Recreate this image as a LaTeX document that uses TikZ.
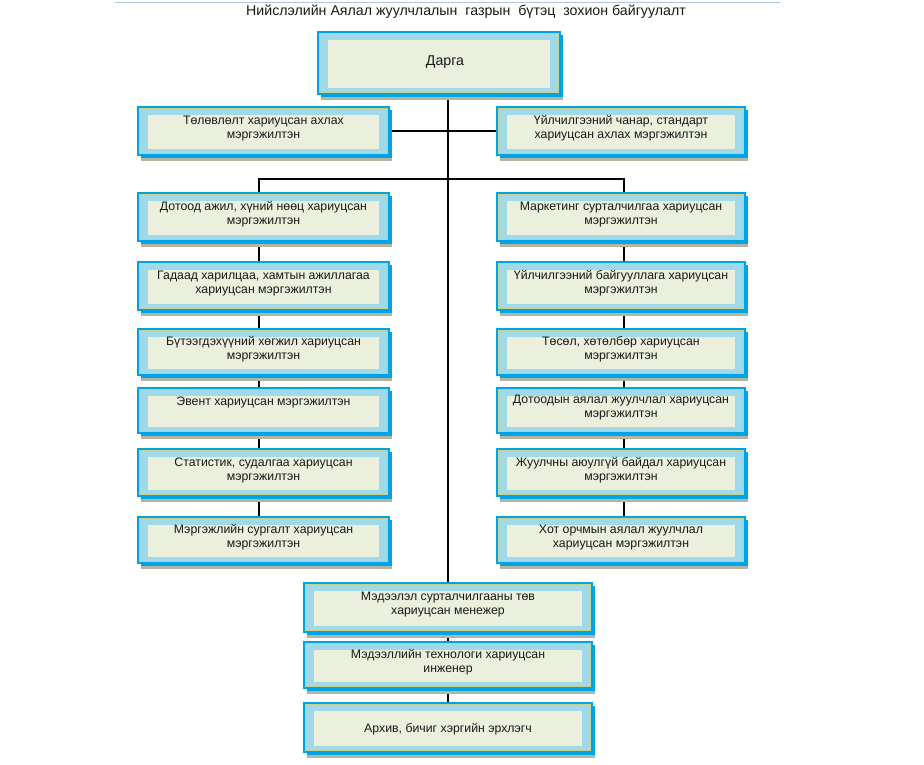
\documentclass[tikz,border=0pt]{standalone}
\usepackage{fontspec}
\setmainfont{Liberation Sans}
\usetikzlibrary{fit,shadows,backgrounds}
\definecolor{bblue}{RGB}{0,163,228}
\definecolor{lblue}{RGB}{160,218,234}
\definecolor{beige}{RGB}{234,240,220}
\definecolor{oline}{RGB}{200,208,140}
\definecolor{sgray}{RGB}{180,180,165}
\definecolor{tline}{RGB}{168,200,232}
\newcommand{\innerdeco}{%
  \fill[beige] ([xshift=10pt,yshift=-8pt]path picture bounding box.north west) rectangle ([xshift=-10pt,yshift=6pt]path picture bounding box.south east);
  \draw[oline, line width=0.7pt] ([xshift=1.6pt,yshift=-1.6pt]path picture bounding box.north west) rectangle ([xshift=-1.6pt,yshift=1.6pt]path picture bounding box.south east);}
\tikzset{
  orgbox/.style={inner sep=0pt, draw=bblue, line width=2pt, fill=lblue,
    preaction={fill=sgray, transform canvas={shift={(3pt,-6pt)}}},
    preaction={fill=bblue, transform canvas={shift={(3pt,-3pt)}}},
    path picture={\innerdeco}},
  orgtext/.style={font=\fontsize{12.3}{14}\selectfont, align=center, inner sep=0pt, text=black!90},
  conn/.style={draw=black, line width=1.1pt}
}
\newcommand{\orgunit}[4]{%
  \node[orgbox, fit={(#2) (#3)}] (#1) {};
  \node[orgtext] (#1-t) at ([yshift=2.5pt]#1.center) {#4};}
\begin{document}
\begin{tikzpicture}[x=1pt,y=-1pt]
\useasboundingbox (0,0) rectangle (924,764);
% title
\coordinate (tl1) at (115,2);
\coordinate (tl2) at (780,2);
\draw[tline, line width=1pt] (tl1) -- (tl2);
\node[font=\fontsize{14.2}{16}\selectfont, inner sep=0pt, text=black!90] (title) at (466,12) {Нийслэлийн Аялал жуулчлалын\ \ газрын\ \ бүтэц\ \ зохион байгуулалт};
% top
\node[orgbox, fit={(318,32) (560,94)}] (darga) {};
\node[font=\fontsize{14.2}{16}\selectfont, inner sep=0pt, text=black!90] (darga-t) at ([xshift=6pt,yshift=1pt]darga.center) {Дарга};
\orgunit{t1}{138,107}{389,155}{Төлөвлөлт хариуцсан ахлах\\мэргэжилтэн}
\orgunit{t2}{497,107}{745,155}{Үйлчилгээний чанар, стандарт\\хариуцсан ахлах мэргэжилтэн}
% left column
\orgunit{l1}{138,193}{389,241}{Дотоод ажил, хүний нөөц хариуцсан\\мэргэжилтэн}
\orgunit{l2}{138,262}{389,310}{Гадаад харилцаа, хамтын ажиллагаа\\хариуцсан мэргэжилтэн}
\orgunit{l3}{138,329}{389,375}{Бүтээгдэхүүний хөгжил хариуцсан\\мэргэжилтэн}
\orgunit{l4}{138,388}{389,433}{Эвент хариуцсан мэргэжилтэн\\\mbox{}}
\orgunit{l5}{138,449}{389,496}{Статистик, судалгаа хариуцсан\\мэргэжилтэн}
\orgunit{l6}{138,517}{389,563}{Мэргэжлийн сургалт хариуцсан\\мэргэжилтэн}
% right column
\orgunit{r1}{497,193}{745,241}{Маркетинг сурталчилгаа хариуцсан\\мэргэжилтэн}
\orgunit{r2}{497,262}{745,310}{Үйлчилгээний байгууллага хариуцсан\\мэргэжилтэн}
\orgunit{r3}{497,329}{745,375}{Төсөл, хөтөлбөр хариуцсан\\мэргэжилтэн}
\orgunit{r4}{497,388}{745,433}{Дотоодын аялал жуулчлал хариуцсан\\мэргэжилтэн}
\orgunit{r5}{497,449}{745,496}{Жуулчны аюулгүй байдал хариуцсан\\мэргэжилтэн}
\orgunit{r6}{497,517}{745,563}{Хот орчмын аялал жуулчлал\\хариуцсан мэргэжилтэн}
% bottom
\orgunit{m1}{304,583}{592,632}{Мэдээлэл сурталчилгааны төв\\хариуцсан менежер}
\orgunit{m2}{304,642}{592,688}{Мэдээллийн технологи хариуцсан\\инженер}
\node[orgbox, fit={(304,703) (592,752)}] (m3) {};
\node[orgtext] (m3-t) at ([yshift=-2pt]m3.center) {Архив, бичиг хэргийн эрхлэгч};
% connectors
\coordinate (tx) at (448,0);
\coordinate (lx) at (259,0);
\coordinate (rx) at (624,0);
\coordinate (hy) at (0,179);
\begin{scope}[on background layer]
\draw[conn] (darga.south -| tx) -- (m1.north -| tx);
\draw[conn] (t1.east) -- (t2.west);
\draw[conn] (l1.north -| lx) -- (lx |- hy) -- (rx |- hy) -- (r1.north -| rx);
\foreach \a/\b in {l1/l2,l2/l3,l3/l4,l4/l5,l5/l6}{\draw[conn] (\a.south -| lx) -- (\b.north -| lx);}
\foreach \a/\b in {r1/r2,r2/r3,r3/r4,r4/r5,r5/r6}{\draw[conn] (\a.south -| rx) -- (\b.north -| rx);}
\draw[conn] (m1.south -| tx) -- (m2.north -| tx);
\draw[conn] (m2.south -| tx) -- (m3.north -| tx);
\end{scope}
\end{tikzpicture}
\end{document}
